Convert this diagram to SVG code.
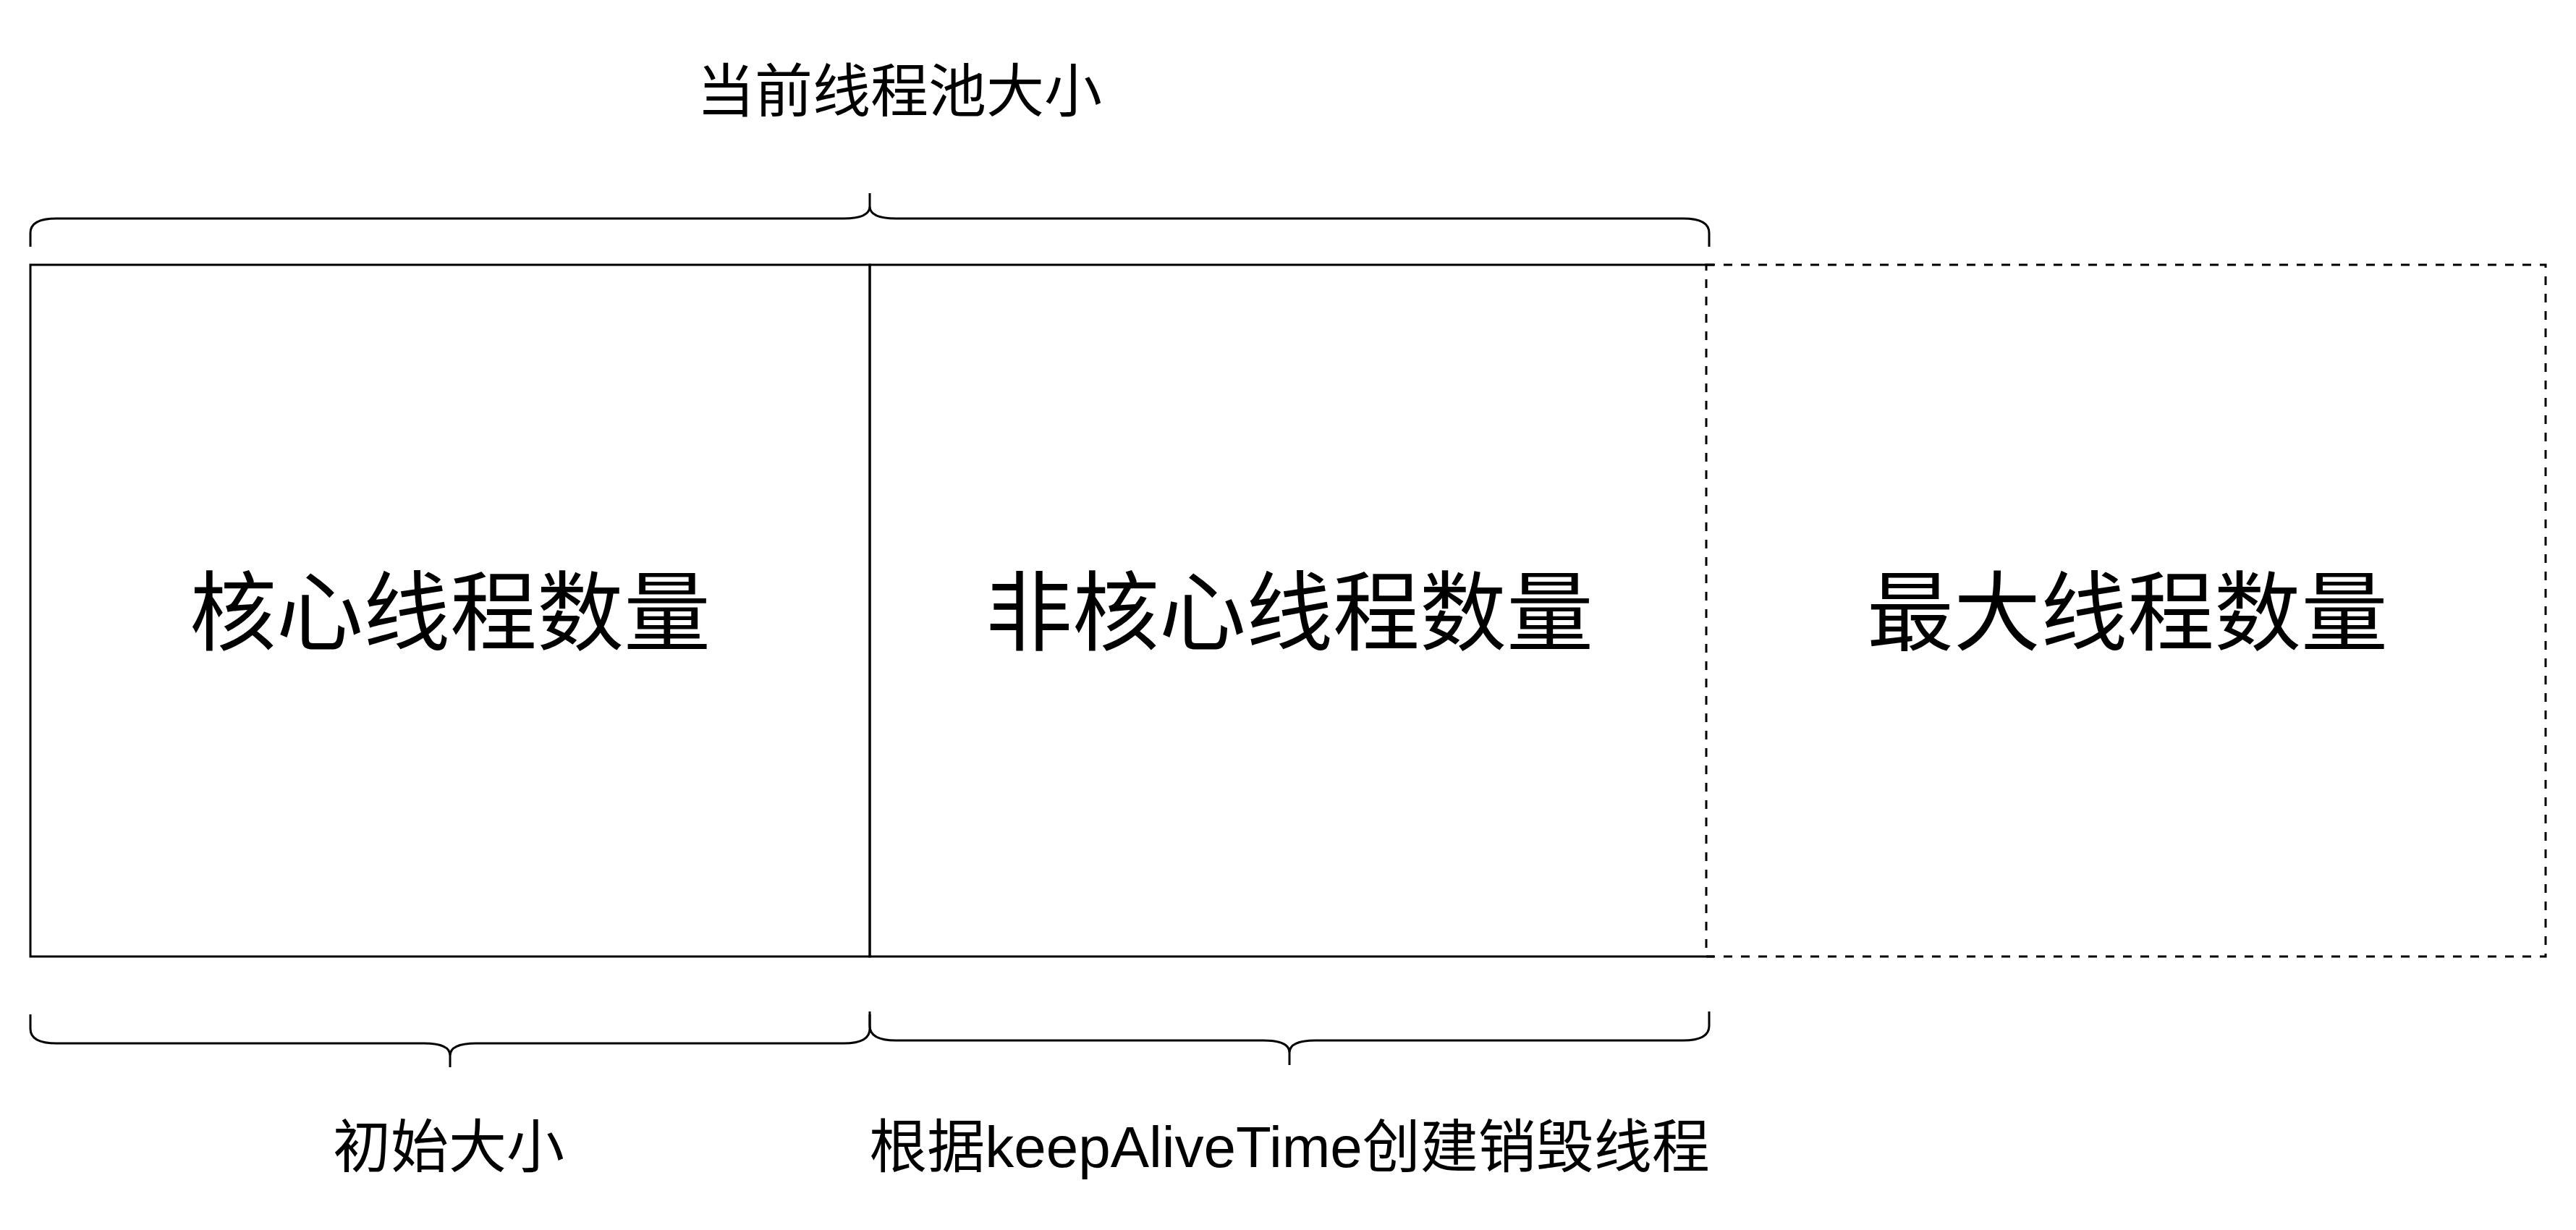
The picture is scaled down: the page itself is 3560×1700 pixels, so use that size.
<svg xmlns="http://www.w3.org/2000/svg" width="3560" height="1700" viewBox="0 0 3560 1700">
<style>
.box{fill:#fff;stroke:#000;stroke-width:3}
.open{fill:none;stroke:#000;stroke-width:3}
.dash{fill:none;stroke:#000;stroke-width:3;stroke-dasharray:12 12}
.brace{fill:none;stroke:#000;stroke-width:3}
.big{font-family:"Liberation Sans","Noto Sans CJK SC",sans-serif;font-size:120px;fill:#000;text-anchor:middle}
.lbl{font-family:"Liberation Sans","Noto Sans CJK SC",sans-serif;font-size:80px;fill:#000;text-anchor:middle}
</style>
<rect width="3560" height="1700" fill="#fff"/>
<g id="core">
<rect class="box" x="42" y="366" width="1160" height="956"/>
<text class="big" x="622" y="890">核心线程数量</text>
</g>
<g id="noncore">
<path class="open" d="M2369,366 L1202,366 L1202,1322 L2369,1322"/>
<text class="big" x="1782" y="890">非核心线程数量</text>
</g>
<g id="max">
<rect class="dash" x="2358" y="366" width="1160" height="956"/>
<text class="big" x="2940" y="890">最大线程数量</text>
</g>
<g id="braces">
<path class="brace" d="M42,341 L42,322 Q42,302 78,302 L1166,302 Q1202,302 1202,285 L1202,267 M1202,285 Q1202,302 1238,302 L2326,302 Q2362,302 2362,322 L2362,341"/>
<path class="brace" d="M42,1402 L42,1422 Q42,1442 78,1442 L586,1442 Q622,1442 622,1459 L622,1475 M622,1459 Q622,1442 658,1442 L1166,1442 Q1202,1442 1202,1422 L1202,1402"/>
<path class="brace" d="M1202,1398 L1202,1418 Q1202,1438 1238,1438 L1746,1438 Q1782,1438 1782,1455 L1782,1472 M1782,1455 Q1782,1438 1818,1438 L2326,1438 Q2362,1438 2362,1418 L2362,1398"/>
</g>
<g id="labels">
<text class="lbl" x="1243" y="154">当前线程池大小</text>
<text class="lbl" x="620" y="1613">初始大小</text>
<text class="lbl" x="1782" y="1613">根据keepAliveTime创建销毁线程</text>
</g>
</svg>
